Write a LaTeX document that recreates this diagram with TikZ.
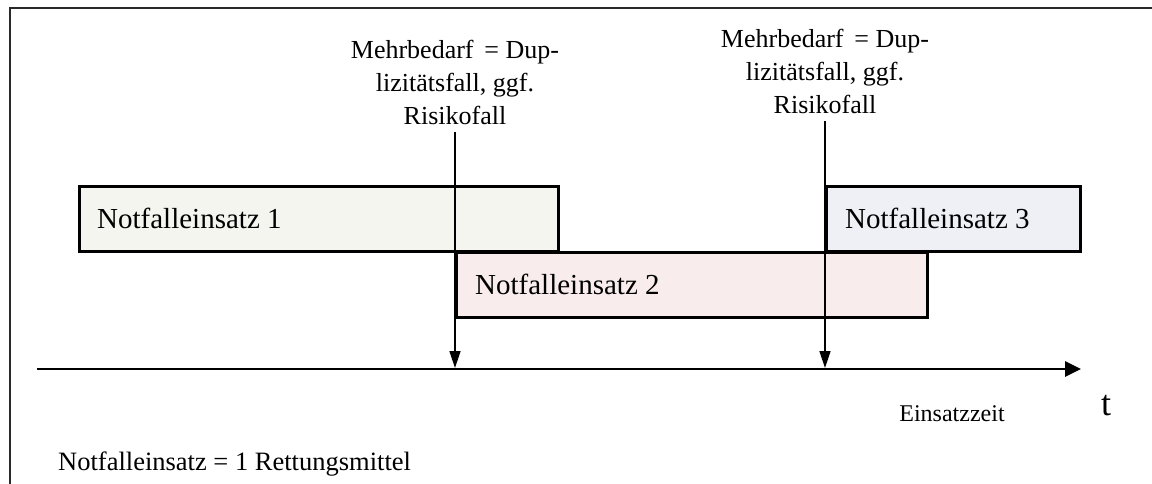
\documentclass[tikz,border=0pt]{standalone}
\usepackage{fontspec}
\setmainfont{Liberation Serif}
\usetikzlibrary{arrows.meta}
\definecolor{fillA}{HTML}{F4F5EF}
\definecolor{fillB}{HTML}{F8ECEC}
\definecolor{fillC}{HTML}{EEF0F6}
\definecolor{frameC}{HTML}{2A2A2A}
\begin{document}
\begin{tikzpicture}[x=1pt,y=-1pt,
  ebox/.style={draw=black,line width=2.6pt,rectangle,inner sep=0pt,anchor=north west,minimum height=65pt},
  boxtxt/.style={anchor=west,inner sep=0pt,font=\fontsize{29}{33}\selectfont},
  lbl/.style={align=center,inner sep=0pt,font=\fontsize{26}{33}\selectfont},
  varrow/.style={draw=black,line width=1.6pt,shorten <=8pt,-{Triangle[length=17pt,width=11pt]}},
  axisarrow/.style={draw=black,line width=2.8pt,-{Triangle[length=16pt,width=15pt]}},
  plain/.style={inner sep=0pt}]
\useasboundingbox (0,0) rectangle (1152,484);
\fill[white] (0,0) rectangle (1152,484);
% frame
\draw[line width=2.6pt,frameC] (10,484) -- (10,8) -- (1152,8);
% boxes
\node[ebox,fill=fillA,minimum width=479pt] (e1) at (78,185) {};
\node[ebox,fill=fillB,minimum width=471pt] (e2) at (455,251) {};
\node[ebox,fill=fillC,minimum width=254pt] (e3) at (825,185) {};
\node[boxtxt] (t1) at ([xshift=19pt]e1.west) {Notfalleinsatz 1};
\node[boxtxt] (t2) at ([xshift=20pt]e2.west) {Notfalleinsatz 2};
\node[boxtxt] (t3) at ([xshift=20pt]e3.west) {Notfalleinsatz 3};
% labels
\node[lbl] (m1) at (455,82) {Mehrbedarf \,= Dup-\\lizitätsfall, ggf.\\Risikofall};
\node[lbl] (m2) at (825,71) {Mehrbedarf \,= Dup-\\lizitätsfall, ggf.\\Risikofall};
% axis
\coordinate (ax0) at (37,369);
\coordinate (ax1) at (1081,369);
\coordinate (a1) at (455,368);
\coordinate (a2) at (825,368);
\draw[axisarrow] (ax0) -- (ax1);
\draw[varrow] (m1.south) -- (a1);
\draw[varrow] (m2.south) -- (a2);
% texts
\node[plain,font=\fontsize{36}{40}\selectfont] (tt) at (1106,406) {t};
\node[plain,font=\fontsize{24}{26}\selectfont] (ez) at (952,414) {Einsatzzeit};
\node[plain,anchor=west,font=\fontsize{26.5}{28}\selectfont] (nr) at (58,464) {Notfalleinsatz = 1 Rettungsmittel};
\end{tikzpicture}
\end{document}
